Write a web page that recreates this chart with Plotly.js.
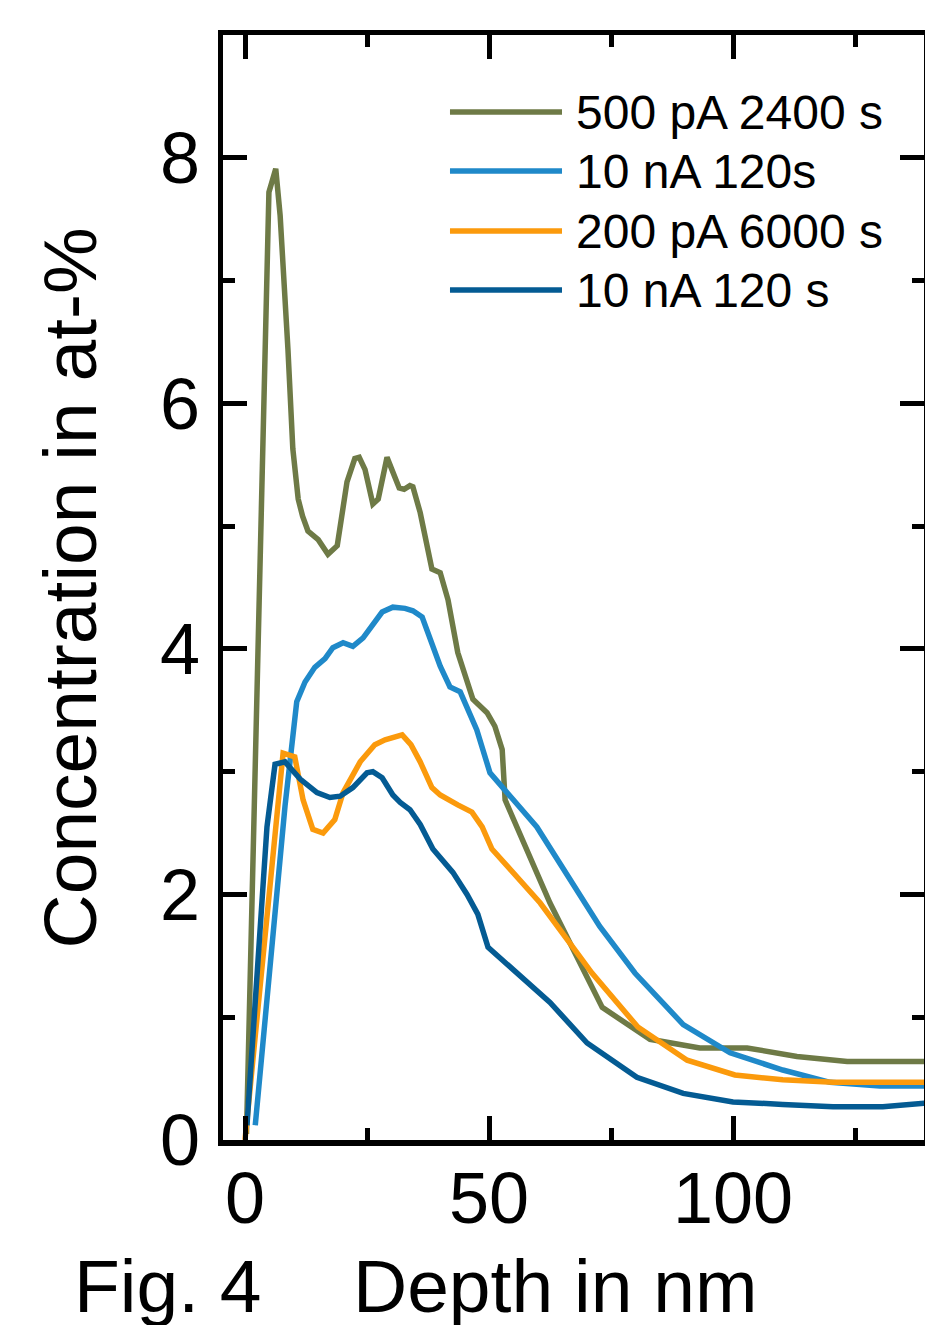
<!DOCTYPE html>
<html>
<head>
<meta charset="utf-8">
<script src="https://cdn.plot.ly/plotly-3.0.1.min.js"></script>
<style>
html,body{margin:0;padding:0;background:#fff;}
#chart{width:925px;height:1325px;}
</style>
</head>
<body>
<div id="chart"></div>
<script>
// Series names (legend labels)
const seriesNames = ["500 pA 2400 s", "10 nA 120s", "200 pA 6000 s", "10 nA 120 s"];
const seriesColors = ["#6e7a46", "#1f89c9", "#fb9a0c", "#045b93"];

// 500 pA 2400 s
const olive_x = [0.3, 4.9, 6.3, 7.2, 8.8, 9.8, 10.9, 11.8, 12.9, 15.0, 17.0, 18.9, 20.9, 22.5, 23.4, 24.6, 26.2, 27.3, 29.1, 30.3, 31.6, 32.6, 33.8, 34.4, 35.9, 38.3, 40.0, 41.6, 43.6, 46.7, 49.6, 51.2, 52.7, 53.3, 62.5, 73.2, 83.0, 93.2, 102.9, 113.1, 123.4, 139.3];
const olive_y = [0.05, 7.72, 7.91, 7.53, 6.44, 5.63, 5.22, 5.08, 4.96, 4.89, 4.77, 4.84, 5.36, 5.55, 5.56, 5.46, 5.18, 5.22, 5.56, 5.44, 5.31, 5.30, 5.33, 5.32, 5.11, 4.65, 4.62, 4.40, 3.97, 3.59, 3.48, 3.37, 3.18, 2.77, 1.93, 1.08, 0.82, 0.75, 0.75, 0.68, 0.64, 0.64];

// 10 nA 120s
const light_x = [2.1, 8.2, 10.6, 12.3, 14.3, 16.4, 18.0, 20.1, 22.1, 24.2, 28.1, 30.3, 32.8, 34.4, 36.3, 40.0, 42.0, 44.1, 47.5, 50.2, 59.8, 72.7, 79.9, 89.8, 99.4, 110.2, 119.9, 130.1, 139.3];
const light_y = [0.12, 2.72, 3.57, 3.73, 3.85, 3.92, 4.01, 4.05, 4.02, 4.09, 4.30, 4.34, 4.33, 4.31, 4.26, 3.86, 3.69, 3.65, 3.34, 2.99, 2.55, 1.74, 1.36, 0.94, 0.71, 0.57, 0.47, 0.44, 0.44];

// 200 pA 6000 s
const orange_x = [0.0, 7.8, 10.2, 11.9, 13.9, 16.0, 18.4, 20.1, 23.6, 26.6, 28.7, 32.2, 34.0, 35.9, 38.3, 40.0, 43.6, 46.5, 48.6, 50.6, 60.5, 71.1, 80.5, 90.6, 100.4, 110.2, 120.5, 139.3];
const orange_y = [0.0, 3.15, 3.12, 2.77, 2.53, 2.50, 2.61, 2.83, 3.08, 3.22, 3.26, 3.30, 3.22, 3.08, 2.87, 2.81, 2.73, 2.67, 2.55, 2.37, 1.93, 1.36, 0.92, 0.65, 0.53, 0.49, 0.47, 0.47];

// 10 nA 120 s
const dark_x = [0.4, 4.5, 6.15, 8.2, 11.3, 14.75, 17.4, 19.5, 22.1, 25.0, 26.2, 28.1, 30.3, 31.8, 33.8, 35.9, 38.5, 40.6, 42.6, 45.5, 47.7, 49.8, 62.5, 70.1, 80.3, 89.8, 100.0, 110.2, 120.5, 130.7, 139.3];
const dark_y = [0.12, 2.55, 3.06, 3.08, 2.94, 2.83, 2.79, 2.80, 2.87, 2.99, 3.00, 2.95, 2.81, 2.75, 2.69, 2.57, 2.37, 2.27, 2.18, 2.00, 1.84, 1.57, 1.12, 0.79, 0.51, 0.38, 0.31, 0.29, 0.27, 0.27, 0.30];

// Axis ticks
const xTickVals = [0, 50, 100];
const xMinorVals = [25, 75, 125];
const yTickVals = [0, 2, 4, 6, 8];
const yMinorVals = [1, 3, 5, 7];

const xs = [olive_x, light_x, orange_x, dark_x];
const ys = [olive_y, light_y, orange_y, dark_y];

const FONT = "Liberation Sans, Arial, Helvetica, sans-serif";
const LW = 5.5;

const traces = xs.map((x, i) => ({
  type: "scatter",
  mode: "lines",
  x: x,
  y: ys[i],
  name: seriesNames[i],
  line: {color: seriesColors[i], width: LW, shape: "linear"},
  showlegend: false,
  hoverinfo: "skip"
}));

// custom legend (long line samples like the original)
const legY = [0.9303, 0.8769, 0.8226, 0.7692];
const shapes = [];
const annotations = [];
seriesNames.forEach((n, i) => {
  shapes.push({type: "line", xref: "paper", yref: "paper",
    x0: 0.3238, x1: 0.4836, y0: legY[i], y1: legY[i],
    line: {color: seriesColors[i], width: LW}});
  annotations.push({xref: "paper", yref: "paper", x: 0.5007, y: legY[i],
    xanchor: "left", yanchor: "middle", text: n, showarrow: false,
    font: {family: FONT, size: 48, color: "#000"}});
});

annotations.push({xref: "paper", yref: "paper", x: -0.2183, y: 0.5,
  xanchor: "center", yanchor: "middle", textangle: -90,
  text: "Concentration in at-%", showarrow: false,
  font: {family: FONT, size: 75, color: "#000"}});
annotations.push({xref: "paper", yref: "paper", x: 0.4736, y: -0.132,
  xanchor: "center", yanchor: "middle",
  text: "Depth in nm", showarrow: false,
  font: {family: FONT, size: 75, color: "#000"}});
annotations.push({xref: "paper", yref: "paper", x: -0.0785, y: -0.132,
  xanchor: "center", yanchor: "middle",
  text: "Fig. 4", showarrow: false,
  font: {family: FONT, size: 75, color: "#000"}});

const layout = {
  width: 925, height: 1325,
  margin: {l: 223, r: 1, t: 35, b: 185},
  paper_bgcolor: "#fff", plot_bgcolor: "#fff",
  showlegend: false,
  font: {family: FONT, color: "#000"},
  xaxis: {
    range: [-4.51, 139.14],
    showgrid: false, zeroline: false,
    showline: true, linecolor: "#000", linewidth: 5.5, mirror: "ticks",
    ticks: "inside", ticklen: 24, tickwidth: 5, tickcolor: "#000",
    tickmode: "array", tickvals: xTickVals, ticktext: xTickVals.map(String),
    tickfont: {family: FONT, size: 72, color: "#000"},
    ticklabelstandoff: -9,
    minor: {ticks: "inside", ticklen: 12, tickwidth: 5, tickcolor: "#000", tickvals: xMinorVals, showgrid: false}
  },
  yaxis: {
    range: [0, 9.0],
    showgrid: false, zeroline: false,
    showline: true, linecolor: "#000", linewidth: 5.5, mirror: "ticks",
    ticks: "inside", ticklen: 24, tickwidth: 5, tickcolor: "#000",
    tickmode: "array", tickvals: yTickVals, ticktext: yTickVals.map(String),
    tickfont: {family: FONT, size: 72, color: "#000"},
    ticklabelstandoff: 3,
    minor: {ticks: "inside", ticklen: 12, tickwidth: 5, tickcolor: "#000", tickvals: yMinorVals, showgrid: false}
  },
  shapes: shapes,
  annotations: annotations
};

Plotly.newPlot("chart", traces, layout, {staticPlot: true, displayModeBar: false});
</script>
</body>
</html>
